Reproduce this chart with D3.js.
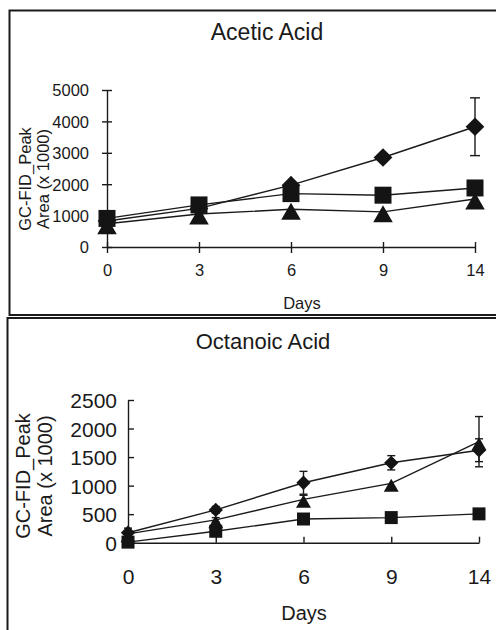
<!DOCTYPE html>
<html>
<head>
<meta charset="utf-8">
<script src="https://cdn.jsdelivr.net/npm/d3@7"></script>
<style>
  html, body { margin: 0; padding: 0; background: #fff; }
  svg { display: block; }
  text { font-family: "Liberation Sans", Arial, sans-serif; fill: #1a1a1a; }
</style>
</head>
<body>
<svg id="chart" width="496" height="630"></svg>
<script>
// ---- data ----
const days = ["0", "3", "6", "9", "14"];

// Acetic Acid (GC-FID peak area x 1000)
const aceticDiamond = [830, 1230, 1970, 2850, 3830];
const aceticDiamondErr = [60, 60, 80, 110, 920];
const aceticSquare = [910, 1340, 1700, 1650, 1880];
const aceticSquareErr = [0, 0, 0, 0, 0];
const aceticTriangle = [740, 1050, 1200, 1120, 1530];
const aceticTriangleErr = [0, 0, 0, 0, 0];
const aceticTicks = [0, 1000, 2000, 3000, 4000, 5000];

// Octanoic Acid (GC-FID peak area x 1000)
const octDiamond = [175, 575, 1050, 1400, 1620];
const octDiamondErr = [80, 60, 200, 125, 200];
const octSquare = [10, 200, 415, 440, 505];
const octSquareErr = [0, 0, 0, 0, 0];
const octTriangle = [155, 400, 760, 1040, 1770];
const octTriangleErr = [40, 40, 70, 0, 440];
const octTicks = [0, 500, 1000, 1500, 2000, 2500];

const svg = d3.select("#chart");

// panel frames
svg.append("rect").attr("x", 9.5).attr("y", 10.5).attr("width", 520).attr("height", 304.5)
  .attr("fill", "none").attr("stroke", "#1a1a1a").attr("stroke-width", 2);
svg.append("rect").attr("x", 7.5).attr("y", 318).attr("width", 520).attr("height", 340)
  .attr("fill", "none").attr("stroke", "#1a1a1a").attr("stroke-width", 2);

function markerPath(type, s) {
  const h = s / 2;
  if (type === "diamond") return `M0,${-h}L${h},0L0,${h}L${-h},0Z`;
  if (type === "square") return `M${-h},${-h}H${h}V${h}H${-h}Z`;
  const w = h * 1.15;
  return `M0,${-h}L${w},${h}L${-w},${h}Z`;
}

function panel(cfg) {
  const x = d3.scalePoint().domain(days).range(cfg.xRange).padding(0);
  const y = d3.scaleLinear().domain([0, cfg.yMax]).range(cfg.yRange);
  const g = svg.append("g");

  // title
  g.append("text").attr("x", cfg.titleX).attr("y", cfg.titleY)
    .attr("text-anchor", "middle").style("font-size", cfg.titleSize + "px").text(cfg.title);

  // y axis
  const yAxis = g.append("g").attr("transform", `translate(${cfg.xRange[0]},0)`)
    .call(d3.axisLeft(y).tickValues(cfg.ticks).tickFormat(d3.format("d"))
      .tickSizeInner(cfg.yTickIn).tickSizeOuter(0).tickPadding(cfg.yPad));
  yAxis.select(".domain").attr("stroke", "#1a1a1a").attr("stroke-width", 1.4);
  yAxis.selectAll(".tick line").attr("stroke", "#1a1a1a").attr("stroke-width", 1.4)
    .attr("x1", cfg.yTickX1).attr("x2", cfg.yTickX2);
  yAxis.selectAll(".tick text").style("font-size", cfg.tickSize + "px")
    .attr("x", -cfg.yPad).attr("dy", "0.36em");

  // x axis
  const xAxis = g.append("g").attr("transform", `translate(0,${cfg.yRange[0]})`)
    .call(d3.axisBottom(x).tickSizeInner(6).tickSizeOuter(0).tickPadding(0));
  xAxis.select(".domain").attr("stroke", "#1a1a1a").attr("stroke-width", 1.4);
  xAxis.selectAll(".tick line").attr("stroke", "#1a1a1a").attr("stroke-width", 1.4)
    .attr("y1", cfg.xTickY1).attr("y2", cfg.xTickY2);
  xAxis.selectAll(".tick text").style("font-size", cfg.tickSize + "px")
    .attr("y", cfg.xLabelDy).attr("dy", "0");

  // x title
  g.append("text").attr("x", cfg.daysX).attr("y", cfg.daysY).attr("text-anchor", "middle")
    .style("font-size", cfg.axisTitleSize + "px").text("Days");

  // y title (two lines)
  const yt = g.append("text").attr("transform", `translate(${cfg.yTitleX},${cfg.yTitleY}) rotate(-90)`)
    .attr("text-anchor", "middle").style("font-size", cfg.axisTitleSize + "px");
  yt.append("tspan").attr("x", 0).attr("dy", 0).text("GC-FID_Peak");
  yt.append("tspan").attr("x", 0).attr("dy", cfg.yTitleLine).text("Area (x 1000)");

  const line = d3.line().x((d, i) => x(days[i])).y(d => y(d));

  cfg.series.forEach(s => {
    g.append("path").datum(s.values).attr("d", line)
      .attr("fill", "none").attr("stroke", "#1a1a1a").attr("stroke-width", 1.4);
  });
  cfg.series.forEach(s => {
    s.values.forEach((v, i) => {
      const e = s.err[i];
      if (!e) return;
      const cx = x(days[i]);
      const eg = g.append("g").attr("stroke", "#1a1a1a").attr("stroke-width", 1.4);
      eg.append("line").attr("x1", cx).attr("x2", cx).attr("y1", y(v - e)).attr("y2", y(v + e));
      eg.append("line").attr("x1", cx - cfg.cap).attr("x2", cx + cfg.cap).attr("y1", y(v + e)).attr("y2", y(v + e));
      eg.append("line").attr("x1", cx - cfg.cap).attr("x2", cx + cfg.cap).attr("y1", y(v - e)).attr("y2", y(v - e));
    });
    g.selectAll(null).data(s.values).enter().append("path")
      .attr("d", markerPath(s.type, s.type === "diamond" ? cfg.msize * 1.1 : cfg.msize))
      .attr("transform", (d, i) => `translate(${x(days[i])},${y(d) + (s.type === "triangle" ? 2 : 0)})`)
      .attr("fill", "#141414");
  });
}

panel({
  title: "Acetic Acid", titleX: 267, titleY: 40, titleSize: 23,
  xRange: [107, 475], yRange: [247, 90], yMax: 5000, ticks: aceticTicks,
  yTickIn: 5, yTickX1: -5, yTickX2: 5, yPad: 18,
  xTickY1: -5, xTickY2: 6, xLabelDy: 29,
  tickSize: 16.5, axisTitleSize: 16.5,
  daysX: 302, daysY: 309,
  yTitleX: 31, yTitleY: 179, yTitleLine: 18,
  msize: 17, cap: 5,
  series: [
    { type: "diamond", values: aceticDiamond, err: aceticDiamondErr },
    { type: "square", values: aceticSquare, err: aceticSquareErr },
    { type: "triangle", values: aceticTriangle, err: aceticTriangleErr }
  ]
});

panel({
  title: "Octanoic Acid", titleX: 263, titleY: 349, titleSize: 22,
  xRange: [128, 479], yRange: [542.7, 400], yMax: 2500, ticks: octTicks,
  yTickIn: 0, yTickX1: 0, yTickX2: 6, yPad: 11,
  xTickY1: -6, xTickY2: 0, xLabelDy: 41,
  tickSize: 21, axisTitleSize: 20,
  daysX: 304, daysY: 620,
  yTitleX: 30, yTitleY: 476, yTitleLine: 22,
  msize: 13, cap: 4,
  series: [
    { type: "diamond", values: octDiamond, err: octDiamondErr },
    { type: "square", values: octSquare, err: octSquareErr },
    { type: "triangle", values: octTriangle, err: octTriangleErr }
  ]
});
</script>
</body>
</html>
